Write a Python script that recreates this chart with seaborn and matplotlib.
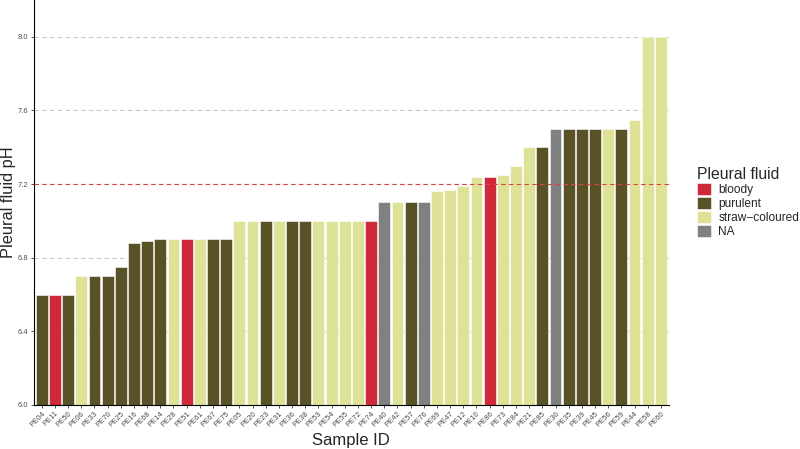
import pandas as pd
import matplotlib.pyplot as plt
import seaborn as sns

# samples in plotted order (sorted by pH)
samples = ["PE04", "PE11", "PE50", "PE06", "PE33", "PE70", "PE25", "PE16",
           "PE68", "PE14", "PE28", "PE51", "PE61", "PE67", "PE75", "PE05",
           "PE20", "PE23", "PE31", "PE36", "PE38", "PE53", "PE54", "PE55",
           "PE72", "PE74", "PE40", "PE42", "PE57", "PE76", "PE69", "PE47",
           "PE12", "PE10", "PE86", "PE73", "PE84", "PE21", "PE85", "PE30",
           "PE35", "PE39", "PE45", "PE56", "PE59", "PE44", "PE58", "PE60"]
ph = [6.6, 6.6, 6.6, 6.7, 6.7, 6.7, 6.75, 6.88,
      6.89, 6.9, 6.9, 6.9, 6.9, 6.9, 6.9, 7.0,
      7.0, 7.0, 7.0, 7.0, 7.0, 7.0, 7.0, 7.0,
      7.0, 7.0, 7.1, 7.1, 7.1, 7.1, 7.16, 7.17,
      7.19, 7.24, 7.24, 7.25, 7.3, 7.4, 7.4, 7.5,
      7.5, 7.5, 7.5, 7.5, 7.5, 7.55, 8.0, 8.0]
fluid = ["purulent", "bloody", "purulent", "straw\u2212coloured", "purulent", "purulent", "purulent", "purulent",
         "purulent", "purulent", "straw\u2212coloured", "bloody", "straw\u2212coloured", "purulent", "purulent", "straw\u2212coloured",
         "straw\u2212coloured", "purulent", "straw\u2212coloured", "purulent", "purulent", "straw\u2212coloured", "straw\u2212coloured", "straw\u2212coloured",
         "straw\u2212coloured", "bloody", "NA", "straw\u2212coloured", "purulent", "NA", "straw\u2212coloured", "straw\u2212coloured",
         "straw\u2212coloured", "straw\u2212coloured", "bloody", "straw\u2212coloured", "straw\u2212coloured", "straw\u2212coloured", "purulent", "NA",
         "purulent", "purulent", "purulent", "straw\u2212coloured", "purulent", "straw\u2212coloured", "straw\u2212coloured", "straw\u2212coloured"]

fluid_levels = ["bloody", "purulent", "straw\u2212coloured", "NA"]
fluid_colours = ["#CF2A3A", "#5A5227", "#DDE297", "#808080"]

df = pd.DataFrame({"sample": samples, "ph": ph, "fluid": fluid})

sns.set_style("white")
plt.rcParams['font.family'] = ["Liberation Sans", "DejaVu Sans"]

fig = plt.figure(figsize=(8, 4.49), dpi=100)
ax = fig.add_axes([0.042, 0.098, 0.794, 0.902])

sns.barplot(data=df, x="sample", y="ph", hue="fluid", order=samples,
            hue_order=fluid_levels, palette=dict(zip(fluid_levels, fluid_colours)),
            dodge=False, width=0.9, edgecolor="white", linewidth=0.4,
            saturation=1, ax=ax)

ax.set_ylim(6.0, 8.2)
ax.set_xlim(-0.62, len(samples) - 0.4)
ax.set_yticks([6.0, 6.4, 6.8, 7.2, 7.6, 8.0])
ax.set_yticklabels(["6.0", "6.4", "6.8", "7.2", "7.6", "8.0"])
ax.yaxis.grid(True, color="#C8C8C8", linestyle=(0, (4, 3)), linewidth=0.8)
ax.xaxis.grid(False)
ax.set_axisbelow(True)
ax.axhline(7.2, color="#E04040", linestyle=(0, (4, 3)), linewidth=0.8, zorder=5)

for s in ["top", "right"]:
    ax.spines[s].set_visible(False)
for s in ["left", "bottom"]:
    ax.spines[s].set_color("black")
    ax.spines[s].set_linewidth(0.8)

ax.tick_params(axis="both", length=2.2, width=0.6, color="#333333",
               labelsize=5.5, labelcolor="#4D4D4D", pad=1.5, bottom=True, left=True)
plt.setp(ax.get_xticklabels(), rotation=45, ha="right", rotation_mode="anchor")

ax.set_xlabel("Sample ID", fontsize=12, labelpad=3)
ax.set_ylabel("Pleural fluid pH", fontsize=11.8)
ax.yaxis.set_label_coords(-0.027, 0.5)

handles, labels = ax.get_legend_handles_labels()
ax.legend(handles, labels, title="Pleural fluid", loc="center left",
          bbox_to_anchor=(1.027, 0.5), frameon=False, fontsize=8.6,
          title_fontsize=11.3, handlelength=1.2, handleheight=1.15,
          handletextpad=0.6, labelspacing=0.1, alignment="left")

plt.savefig("out.png", dpi=100)
